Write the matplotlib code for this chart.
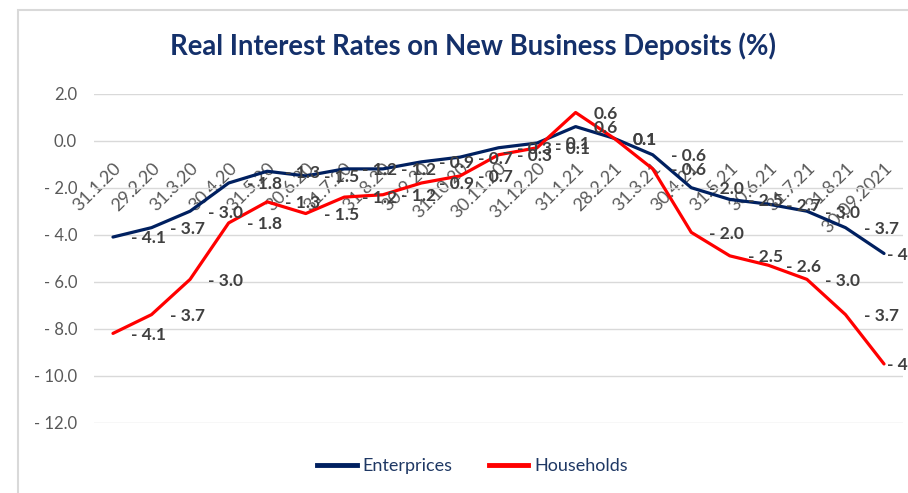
import matplotlib
matplotlib.use("Agg")
import matplotlib.pyplot as plt
from matplotlib.lines import Line2D
from matplotlib.patches import Rectangle

# ---- data ----
dates = ["31.1.20", "29.2.20", "31.3.20", "30.4.20", "31.5.20", "30.6.20", "31.7.20",
         "31.8.20", "30.9.20", "31.10.20", "30.11.20", "31.12.20", "31.1.21", "28.2.21",
         "31.3.21", "30.4.21", "31.5.21", "30.6.21", "31.7.21", "31.8.21", "30.09.2021"]
enterprises = [-4.1, -3.7, -3.0, -1.8, -1.3, -1.5, -1.2, -1.2, -0.9, -0.7, -0.3, -0.1,
               0.6, 0.1, -0.6, -2.0, -2.5, -2.7, -3.0, -3.7, -4.8]
households = [-8.2, -7.4, -5.9, -3.5, -2.6, -3.1, -2.4, -2.3, -1.8, -1.5, -0.6, -0.3,
              1.2, 0.1, -1.2, -3.9, -4.9, -5.3, -5.9, -7.4, -9.5]
# data labels shown on each line (as printed in the original chart)
enterprise_labels = enterprises
household_labels = [-4.1, -3.7, -3.0, -1.8, -1.3, -1.5, -1.2, -1.2, -0.9, -0.7, -0.3, -0.1,
                    0.6, 0.1, -0.6, -2.0, -2.5, -2.6, -3.0, -3.7, -4.8]
y_ticks = [2.0, 0.0, -2.0, -4.0, -6.0, -8.0, -10.0, -12.0]

FONT = "Lato"
NAVY = "#002060"
RED = "#FF0000"
GRAY = "#595959"
LABEL = "#404040"


def fmt(v):
    if v < 0:
        return "- %.1f" % abs(v)
    return "%.1f" % v


fig = plt.figure(figsize=(9.08, 4.93), dpi=100)
fig.patch.set_facecolor("white")

# chart area border (left & top visible)
fig.patches.append(Rectangle((18 / 908, -0.1), 1.2, (493 - 10) / 493 + 0.1,
                             transform=fig.transFigure, fill=False,
                             edgecolor="#D9D9D9", linewidth=1.5, zorder=0))

ax = fig.add_axes([93.7 / 908, (493 - 422.7) / 493, (903.3 - 93.7) / 908, (422.7 - 93.7) / 493])
ax.set_facecolor("none")

x = list(range(len(dates)))
ax.plot(x, enterprises, color=NAVY, linewidth=2.3, solid_capstyle="round", zorder=3)
ax.plot(x, households, color=RED, linewidth=2.3, solid_capstyle="round", zorder=3)

last = len(dates) - 1
for series, labels in ((enterprises, enterprise_labels), (households, household_labels)):
    for xi, yi, lab in zip(x, series, labels):
        dx = 2 if xi == last else 13
        ax.annotate(fmt(lab), (xi, yi), xytext=(dx, -1), textcoords="offset points",
                    ha="left", va="center", fontsize=12.5, fontweight="bold",
                    color=LABEL, family=FONT, zorder=5, annotation_clip=False)

ax.set_xlim(-0.5, len(dates) - 0.5)
ax.set_ylim(-12, 2)
ax.set_yticks(y_ticks)
ax.set_yticklabels([fmt(v) for v in y_ticks], fontsize=12, color=GRAY, family=FONT)
ax.yaxis.grid(True, color="#D9D9D9", linewidth=1.0)
ax.set_axisbelow(True)
ax.tick_params(axis="y", length=0, pad=12)

ax.spines["bottom"].set_position(("data", 0))
for s in ["top", "right", "left", "bottom"]:
    ax.spines[s].set_visible(False)
ax.set_xticks(x)
ax.set_xticklabels(dates, rotation=45, ha="right", va="top", rotation_mode="anchor",
                   fontsize=13, color=GRAY, family=FONT)
ax.tick_params(axis="x", length=0, pad=14)

fig.text(472.5 / 908, (493 - 46) / 493, "Real Interest Rates on New Business Deposits (%)",
         ha="center", va="center", fontsize=19.8, fontweight="bold", color="#14306A", family=FONT)

handles = [Line2D([], [], color=NAVY, linewidth=3.5),
           Line2D([], [], color=RED, linewidth=3.5)]
fig.legend(handles, ["Enterprices", "Households"], loc="center",
           bbox_to_anchor=(472.5 / 908, (493 - 466) / 493), ncol=2, frameon=False,
           prop={"family": FONT, "size": 13}, labelcolor="#1F3864",
           handlelength=2.2, handletextpad=0.3, columnspacing=2.0)

fig.savefig("out.png", dpi=100, facecolor="white")
